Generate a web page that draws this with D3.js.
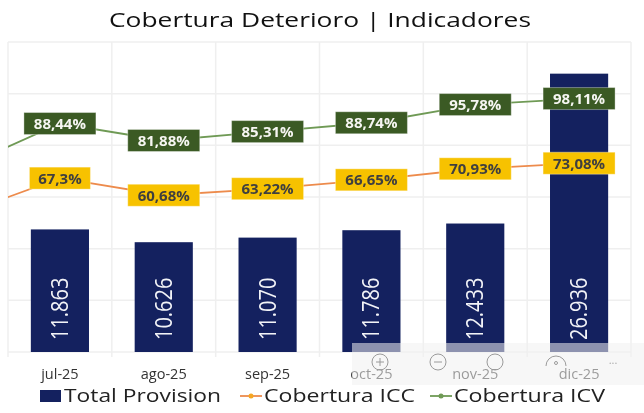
<!DOCTYPE html>
<html>
<head>
<meta charset="utf-8">
<script src="https://cdn.jsdelivr.net/npm/d3@7"></script>
<style>
  html, body { margin: 0; padding: 0; background: #fff; }
  svg { display: block; filter: blur(0.35px); }
  text { font-family: "Open Sans", sans-serif; }
</style>
</head>
<body>
<svg id="chart" width="644" height="413"></svg>
<script>
const months = ['jul-25', 'ago-25', 'sep-25', 'oct-25', 'nov-25', 'dic-25'];
const provision = [11863, 10626, 11070, 11786, 12433, 26936];
const provisionLabels = ['11.863', '10.626', '11.070', '11.786', '12.433', '26.936'];
const icc = [67.3, 60.68, 63.22, 66.65, 70.93, 73.08];
const iccLabels = ['67,3%', '60,68%', '63,22%', '66,65%', '70,93%', '73,08%'];
const icv = [88.44, 81.88, 85.31, 88.74, 95.78, 98.11];
const icvLabels = ['88,44%', '81,88%', '85,31%', '88,74%', '95,78%', '98,11%'];
// previous month sits off the left edge, only its line segment shows
const iccPrev = 52.6, icvPrev = 70.5;
const legendItems = ['Total Provision', 'Cobertura ICC', 'Cobertura ICV'];

const NAVY = '#14215f', ORANGE = '#ed8b4c', GREEN = '#6f9a55';
const svg = d3.select('#chart');
const m = { t: 42, r: 13, b: 61, l: 8 };
const W = 644, H = 413;

const x = d3.scaleBand().domain(months).range([m.l, W - m.r]).paddingInner(0.44).paddingOuter(0.22);
const xGrid = d3.scaleLinear().domain([0, months.length]).range([m.l, W - m.r]);
const yBar = d3.scaleLinear().domain([0, 30000]).range([H - m.b, m.t]);
const yPct = d3.scaleLinear().domain([0, 120]).range([H - m.b, m.t]);
const cx = d => x(d) + x.bandwidth() / 2;

svg.append('text').attr('x', 320).attr('y', 27).attr('text-anchor', 'middle')
  .attr('font-size', 20.5).attr('fill', '#111').attr('textLength', 422).attr('lengthAdjust', 'spacingAndGlyphs')
  .text('Cobertura Deterioro | Indicadores');

// grid
yBar.ticks(6).forEach(t => {
  svg.append('line').attr('x1', m.l).attr('x2', W - m.r).attr('y1', yBar(t)).attr('y2', yBar(t))
    .attr('stroke', '#efefef').attr('stroke-width', 1.5);
});
d3.range(months.length + 1).forEach(i => {
  svg.append('line').attr('x1', xGrid(i)).attr('x2', xGrid(i)).attr('y1', m.t).attr('y2', H - m.b + 5)
    .attr('stroke', '#efefef').attr('stroke-width', 1.5);
});

// bars
svg.selectAll('rect.bar').data(months).join('rect').attr('class', 'bar')
  .attr('x', d => x(d)).attr('width', x.bandwidth())
  .attr('y', (d, i) => yBar(provision[i])).attr('height', (d, i) => yBar(0) - yBar(provision[i]))
  .attr('fill', NAVY);

svg.selectAll('text.barlab').data(months).join('text').attr('class', 'barlab')
  .attr('transform', d => `translate(${cx(d) + 8},${H - m.b - 12}) rotate(-90) scale(1,1.15)`)
  .attr('font-size', 20).attr('fill', '#f2f3f7').attr('font-family', '"Liberation Sans Narrow", "Liberation Sans", sans-serif')
  .text((d, i) => provisionLabels[i]);

// lines
svg.append('clipPath').attr('id', 'plot').append('rect')
  .attr('x', m.l).attr('y', m.t).attr('width', W - m.l - m.r).attr('height', H - m.t - m.b);
const prevX = cx(months[0]) - x.step();
function drawLine(vals, prev, color) {
  const pts = [[prevX, yPct(prev)]].concat(months.map((d, i) => [cx(d), yPct(vals[i])]));
  svg.append('path').attr('d', d3.line()(pts)).attr('fill', 'none')
    .attr('stroke', color).attr('stroke-width', 1.8).attr('clip-path', 'url(#plot)');
}
drawLine(icc, iccPrev, ORANGE);
drawLine(icv, icvPrev, GREEN);

// labels
function drawLabels(vals, labels, bg, fg) {
  months.forEach((d, i) => {
    const w = labels[i].length === 5 ? 61 : 72, h = 22;
    const px = cx(d) + (i === 0 ? 0 : 0), py = yPct(vals[i]);
    svg.append('rect').attr('x', px - w / 2).attr('y', py - h / 2).attr('width', w).attr('height', h)
      .attr('fill', bg).attr('stroke', '#fff').attr('stroke-opacity', .35);
    svg.append('text').attr('x', px).attr('y', py + 5.5).attr('text-anchor', 'middle')
      .attr('font-size', 15).attr('font-weight', 700).attr('fill', fg)
      .text(labels[i]);
  });
}
drawLabels(icc, iccLabels, '#f7c200', '#3f3f3f');
drawLabels(icv, icvLabels, '#3b5a24', '#f6f6f2');

// x tick labels
svg.selectAll('text.tick').data(months).join('text').attr('class', 'tick')
  .attr('x', d => cx(d)).attr('y', 379).attr('text-anchor', 'middle')
  .attr('font-size', 14.5).attr('fill', '#333').text(d => d);

// legend
const ly = 401;
svg.append('rect').attr('x', 40).attr('y', ly - 11).attr('width', 21).attr('height', 12).attr('fill', NAVY);
svg.append('text').attr('x', 64).attr('y', ly + 1).attr('font-size', 17.5).attr('fill', '#222').attr('textLength', 157).attr('lengthAdjust', 'spacingAndGlyphs').text(legendItems[0]);
[[240, ORANGE, '#f5a623', 1, 264, 151], [430, GREEN, GREEN, 2, 454, 151]].forEach(([lx, c, dot, idx, tx, tw]) => {
  svg.append('line').attr('x1', lx).attr('x2', lx + 22).attr('y1', ly - 5).attr('y2', ly - 5).attr('stroke', c).attr('stroke-width', 1.8);
  svg.append('circle').attr('cx', lx + 11).attr('cy', ly - 5).attr('r', 2.5).attr('fill', dot);
  svg.append('text').attr('x', tx).attr('y', ly + 1).attr('font-size', 17.5).attr('fill', '#222').attr('textLength', tw).attr('lengthAdjust', 'spacingAndGlyphs').text(legendItems[idx]);
});

// toolbar overlay from the screenshot
const tb = svg.append('g');
tb.append('rect').attr('x', 352).attr('y', 343).attr('width', 292).attr('height', 42).attr('fill', '#f0f0f0').attr('fill-opacity', .55);
const ic = tb.append('g').attr('fill', 'none').attr('stroke', '#9a9a9a').attr('stroke-width', 1);
ic.append('circle').attr('cx', 380).attr('cy', 362).attr('r', 8);
ic.append('path').attr('d', 'M376 362h8M380 358v8');
ic.append('circle').attr('cx', 438).attr('cy', 362).attr('r', 8);
ic.append('path').attr('d', 'M434 362h8');
ic.append('circle').attr('cx', 495).attr('cy', 362).attr('r', 8);
ic.append('path').attr('d', 'M546 366a10 10 0 0 1 20 0');
ic.append('circle').attr('cx', 556).attr('cy', 363).attr('r', 1.5);
tb.append('text').attr('x', 613).attr('y', 364).attr('text-anchor', 'middle').attr('font-size', 11).attr('fill', '#aaa').text('...');
</script>
</body>
</html>
